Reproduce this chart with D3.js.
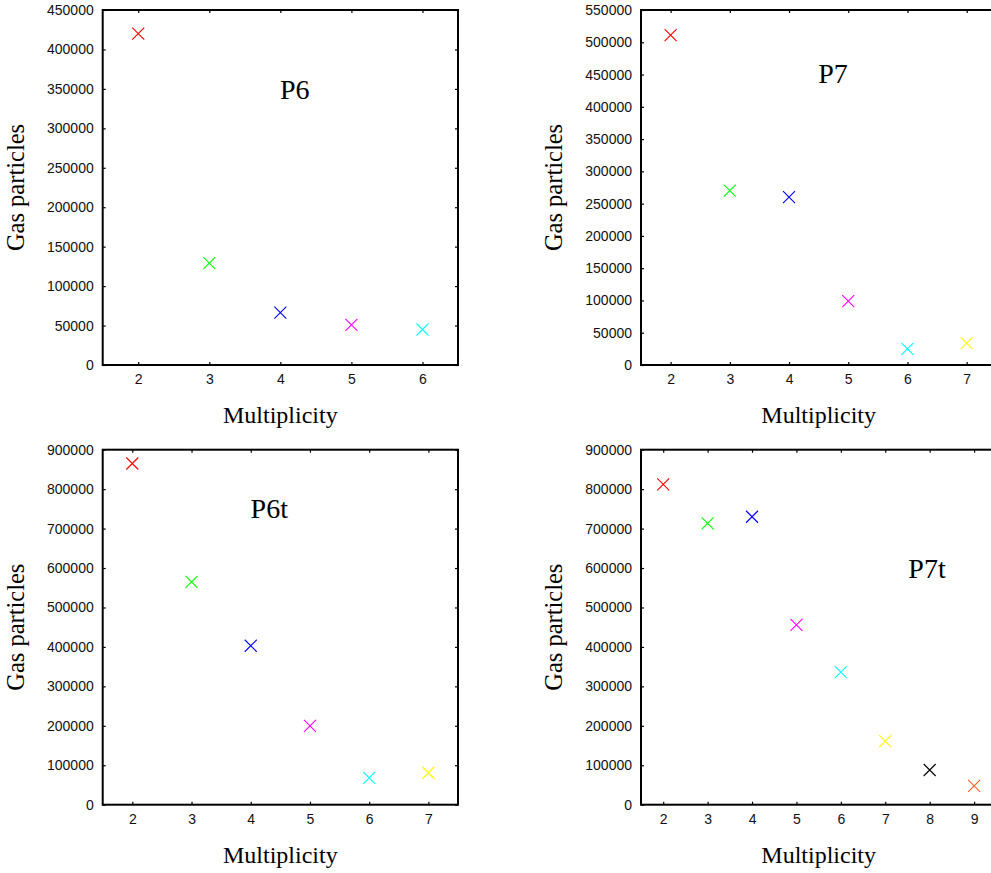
<!DOCTYPE html>
<html>
<head>
<meta charset="utf-8">
<script src="https://cdn.jsdelivr.net/npm/d3@7"></script>
<style>
  html, body { margin: 0; padding: 0; background: #fff; }
  svg { display: block; }
</style>
</head>
<body>
<svg id="chart" width="991" height="873"></svg>
<script>
// Gas particle counts per multiplicity, one array per run
const multiplicityP6 = [2, 3, 4, 5, 6];
const gasP6 = [420000, 129000, 66500, 51000, 45000];

const multiplicityP7 = [2, 3, 4, 5, 6, 7];
const gasP7 = [511000, 270000, 260000, 99000, 25000, 34000];

const multiplicityP6t = [2, 3, 4, 5, 6, 7];
const gasP6t = [865000, 565000, 403000, 200000, 68000, 81000];

const multiplicityP7t = [2, 3, 4, 5, 6, 7, 8, 9];
const gasP7t = [812000, 713000, 730000, 456000, 336000, 161000, 88000, 48000];

// Y tick values for each panel
const ticksP6 = [0, 50000, 100000, 150000, 200000, 250000, 300000, 350000, 400000, 450000];
const ticksP7 = [0, 50000, 100000, 150000, 200000, 250000, 300000, 350000, 400000, 450000, 500000, 550000];
const ticksP9 = [0, 100000, 200000, 300000, 400000, 500000, 600000, 700000, 800000, 900000];

// Point colours, one per multiplicity (2, 3, 4, ...)
const pointColors = ["#ff0000", "#00ff00", "#0000ff", "#ff00ff", "#00ffff", "#ffff00", "#000000", "#ff6020"];

const panelNames = ["P6", "P7", "P6t", "P7t"];
const xLabel = "Multiplicity";
const yLabel = "Gas particles";

const svg = d3.select("#chart");
const W = 355.3, H = 355;

const panels = [
  { name: panelNames[0], xs: multiplicityP6, ys: gasP6, ticks: ticksP6, left: 102.7, top: 10, lx: 192, ly: 89 },
  { name: panelNames[1], xs: multiplicityP7, ys: gasP7, ticks: ticksP7, left: 641, top: 10, lx: 192, ly: 73.3 },
  { name: panelNames[2], xs: multiplicityP6t, ys: gasP6t, ticks: ticksP9, left: 102.7, top: 449.7, lx: 166.6, ly: 68.6 },
  { name: panelNames[3], xs: multiplicityP7t, ys: gasP7t, ticks: ticksP9, left: 641, top: 449.7, lx: 286, ly: 128 }
];

const tickFont = "'Liberation Sans', Arial, sans-serif";
const serifFont = "'Liberation Serif', 'Times New Roman', serif";

panels.forEach(p => {
  const g = svg.append("g").attr("transform", `translate(${p.left},${p.top})`);
  const xMin = d3.min(p.xs) - 0.5, xMax = d3.max(p.xs) + 0.5;
  const x = d3.scaleLinear().domain([xMin, xMax]).range([0, W]);
  const y = d3.scaleLinear().domain([0, d3.max(p.ticks)]).range([H, 0]);

  const styleAxis = sel => {
    sel.select(".domain").remove();
    sel.selectAll(".tick line").attr("stroke", "#000").attr("stroke-width", 1.2);
    sel.selectAll(".tick text").attr("fill", "#111").style("font-family", tickFont).style("font-size", "14px");
  };

  g.append("g").attr("transform", `translate(0,${H})`)
    .call(d3.axisBottom(x).tickValues(p.xs).tickFormat(d3.format("d")).tickSize(-3).tickPadding(9))
    .call(styleAxis);
  g.append("g")
    .call(d3.axisTop(x).tickValues(p.xs).tickFormat("").tickSize(-3))
    .call(styleAxis);
  g.append("g")
    .call(d3.axisLeft(y).tickValues(p.ticks).tickFormat(d3.format("d")).tickSize(-3).tickPadding(9))
    .call(styleAxis);
  g.append("g").attr("transform", `translate(${W},0)`)
    .call(d3.axisRight(y).tickValues(p.ticks).tickFormat("").tickSize(-3))
    .call(styleAxis);

  // plot frame
  g.append("rect").attr("x", 0).attr("y", 0).attr("width", W).attr("height", H)
    .attr("fill", "none").attr("stroke", "#000").attr("stroke-width", 2);

  // cross markers
  const r = 6;
  g.selectAll("path.pt").data(p.xs.map((m, i) => ({ m, v: p.ys[i], c: pointColors[i] })))
    .join("path").attr("class", "pt")
    .attr("d", d => {
      const cx = x(d.m), cy = y(d.v);
      return `M${cx - r},${cy - r}L${cx + r},${cy + r}M${cx - r},${cy + r}L${cx + r},${cy - r}`;
    })
    .attr("stroke", d => d.c).attr("stroke-width", 1.1).attr("fill", "none");

  // panel label
  g.append("text").attr("x", p.lx).attr("y", p.ly).attr("text-anchor", "middle")
    .style("font-family", serifFont).style("font-size", "28px").text(p.name);

  // axis titles
  g.append("text").attr("x", W / 2).attr("y", H + 58).attr("text-anchor", "middle")
    .style("font-family", serifFont).style("font-size", "24px").text(xLabel);
  g.append("text").attr("transform", `translate(-79,${H / 2}) rotate(-90)`).attr("text-anchor", "middle")
    .style("font-family", serifFont).style("font-size", "24.5px").text(yLabel);
});
</script>
</body>
</html>
